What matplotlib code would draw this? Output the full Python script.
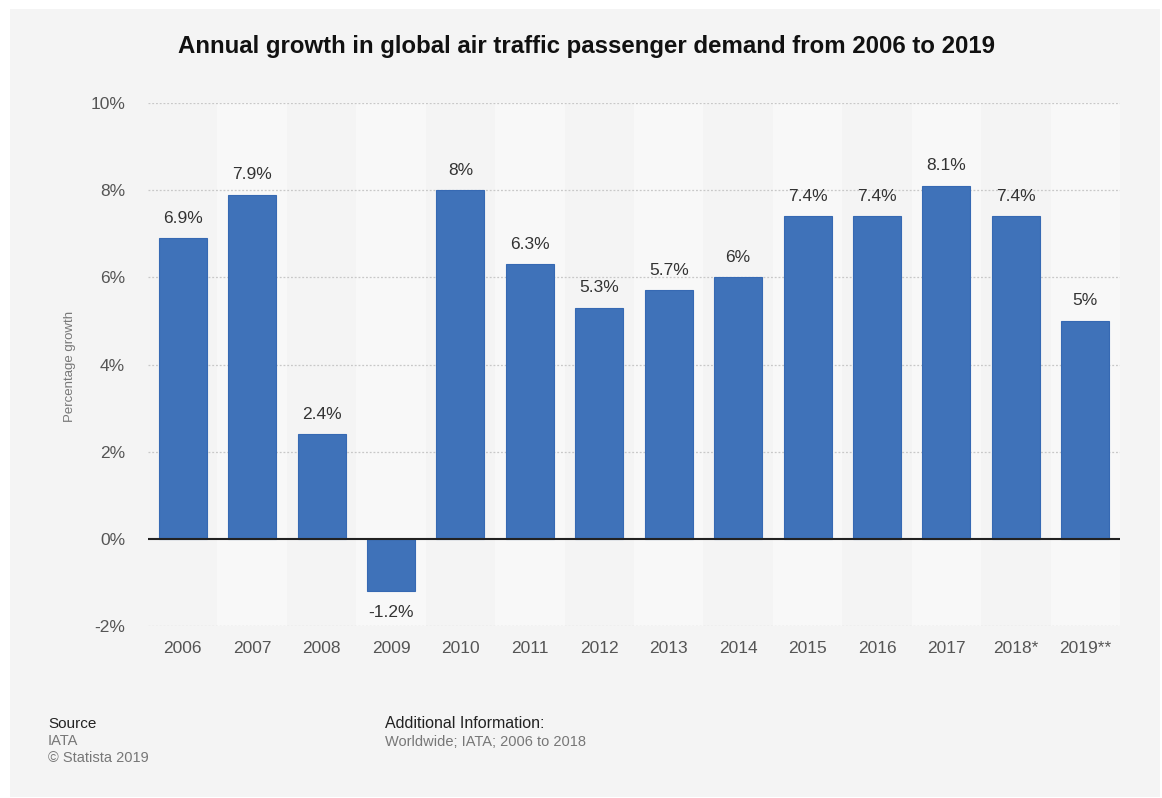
import matplotlib
matplotlib.use("Agg")
import matplotlib.pyplot as plt
from matplotlib.patches import Rectangle

# Annual passenger demand growth (%)
years = ["2006", "2007", "2008", "2009", "2010", "2011", "2012",
         "2013", "2014", "2015", "2016", "2017", "2018*", "2019**"]
growth = [6.9, 7.9, 2.4, -1.2, 8.0, 6.3, 5.3, 5.7, 6.0, 7.4, 7.4, 8.1, 7.4, 5.0]
value_labels = ["6.9%", "7.9%", "2.4%", "-1.2%", "8%", "6.3%", "5.3%",
                "5.7%", "6%", "7.4%", "7.4%", "8.1%", "7.4%", "5%"]
y_ticks = [-2, 0, 2, 4, 6, 8, 10]
y_ticklabels = ["-2%", "0%", "2%", "4%", "6%", "8%", "10%"]

plt.rcParams["font.family"] = ["Liberation Sans", "DejaVu Sans"]

W, H = 1162, 798
fig = plt.figure(figsize=(W / 100, H / 100), dpi=100)
fig.patch.set_facecolor("white")
panel_bg = "#f4f4f4"
fig.patches.append(Rectangle((10 / W, 1 / H), 1150 / W, (789 - 1) / H,
                             transform=fig.transFigure, facecolor=panel_bg,
                             edgecolor="none", zorder=-10))

ax = fig.add_axes([148 / W, 1 - 626 / H, (1120 - 148) / W, (626 - 103) / H])
ax.set_facecolor(panel_bg)
ax.patch.set_alpha(0)

n = len(years)
x = list(range(n))
ax.set_xlim(-0.5, n - 0.5)
ax.set_ylim(-2, 10)

# alternating column bands
for i in x:
    if i % 2 == 1:
        ax.axvspan(i - 0.5, i + 0.5, color="#f8f8f8", zorder=0, lw=0)

# dotted gridlines
for t in y_ticks:
    if t != 0:
        ax.axhline(t, color="#c8c8c8", lw=0.9, ls=(0, (1.5, 1.5)), zorder=1)

ax.bar(x, growth, width=0.69, color="#3f72b9", edgecolor="#3669b3",
       linewidth=0.8, zorder=3)
ax.axhline(0, color="#222222", lw=1.5, zorder=4)

for xi, v, lab in zip(x, growth, value_labels):
    if v >= 0:
        ax.annotate(lab, (xi, v), xytext=(0, 9), textcoords="offset points",
                    ha="center", va="bottom", fontsize=12.5, color="#333333")
    else:
        ax.annotate(lab, (xi, v), xytext=(0, -10), textcoords="offset points",
                    ha="center", va="top", fontsize=12.5, color="#333333")

ax.set_yticks(y_ticks)
ax.set_yticklabels(y_ticklabels, fontsize=12.5, color="#555555")
ax.set_xticks(x)
ax.set_xticklabels(years, fontsize=12.5, color="#555555")
ax.tick_params(axis="y", length=0, pad=16.5)
ax.tick_params(axis="x", length=0, pad=11)
for s in ax.spines.values():
    s.set_visible(False)

fig.text(70 / W, 1 - 366 / H, "Percentage growth", rotation=90,
         ha="center", va="center", fontsize=9.5, color="#777777")

fig.text(586 / W, 1 - 47 / H,
         "Annual growth in global air traffic passenger demand from 2006 to 2019",
         ha="center", va="center", fontsize=17.3, fontweight="bold", color="#111111")

fig.text(48 / W, 1 - 724 / H, "Source", ha="left", va="center",
         fontsize=11, color="#222222")
fig.text(48 / W, 1 - 741 / H, "IATA", ha="left", va="center",
         fontsize=10.5, color="#777777")
fig.text(48 / W, 1 - 758 / H, "\u00a9 Statista 2019", ha="left", va="center",
         fontsize=10.5, color="#777777")
fig.text(385 / W, 1 - 724 / H, "Additional Information:", ha="left",
         va="center", fontsize=11.5, color="#222222")
fig.text(385 / W, 1 - 742 / H, "Worldwide; IATA; 2006 to 2018", ha="left",
         va="center", fontsize=10.5, color="#777777")

fig.savefig("out.png", dpi=100, facecolor=fig.get_facecolor())
